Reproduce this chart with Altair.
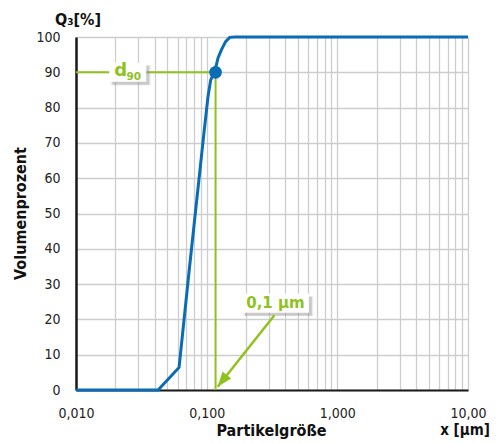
import altair as alt
import pandas as pd

# ---- data ----
curve_x = [0.010, 0.0425, 0.0615, 0.0733, 0.0948, 0.1023, 0.1073, 0.114, 0.1185, 0.122,
           0.1294, 0.1396, 0.150, 0.164, 10.0]
curve_y = [0, 0, 6.4, 33.5, 72, 83, 87.8, 90, 92, 94, 96.3, 98.7, 99.9, 100, 100]

d90_x = [0.117]
d90_y = [90]

guide_x = [0.010, 0.117, 0.117]
guide_y = [90, 90, 0]

d90_label_x = [0.0249]
d90_label_y = [90]

size_label_x = [0.336]
size_label_y = [24.6]
size_label_text = ["0,1 µm"]

arrow_x = [0.330, 0.1213]
arrow_y = [21.2, 0.9]

x_tick_values = [0.01, 0.1, 1, 10]
x_tick_labels = ["0,010", "0,100", "1,000", "10,00"]
y_tick_values = [0, 10, 20, 30, 40, 50, 60, 70, 80, 90, 100]

BLUE = "#0a6cb5"
GREEN = "#8fc21f"
GRID = "#cdcdcd"
LABEL_FONT = "DejaVu Sans Condensed"
TITLE_FONT = "DejaVu Sans Condensed"

x_grid_values = [m * 10 ** e for e in (-2, -1, 0) for m in range(1, 10)] + [10]
label_expr = " : ".join(
    f"abs(datum.value - {v}) < {v} * 1e-6 ? '{l}'" for v, l in zip(x_tick_values, x_tick_labels)
) + " : ''"

x_scale = alt.Scale(type="log", domain=[0.01, 10], nice=False)
y_scale = alt.Scale(domain=[0, 100], nice=False, zero=True)

x_axis = alt.Axis(
    values=x_grid_values, labelExpr=label_expr, labelOverlap=False, labelFlush=False,
    labelBound=False, title="Partikelgröße", titleX=195, titleY=45,
    titleBaseline="alphabetic", titleAnchor="middle", titleAlign="center",
)
y_axis = alt.Axis(
    values=y_tick_values, title="Volumenprozent", titleX=-56, titleY=176,
    titleAngle=-90, titleAlign="center", titleBaseline="middle", labelFlush=False,
)

X = alt.X("x:Q", scale=x_scale, axis=x_axis)
Y = alt.Y("y:Q", scale=y_scale, axis=y_axis)

curve_df = pd.DataFrame({"x": curve_x, "y": curve_y, "i": range(len(curve_x))})
guide_df = pd.DataFrame({"x": guide_x, "y": guide_y, "i": range(len(guide_x))})
point_df = pd.DataFrame({"x": d90_x, "y": d90_y})
d90_df = pd.DataFrame({"x": d90_label_x, "y": d90_label_y})
size_df = pd.DataFrame({"x": size_label_x, "y": size_label_y, "t": size_label_text})
arrow_df = pd.DataFrame({"x": arrow_x, "y": arrow_y, "i": range(len(arrow_x))})
head_df = pd.DataFrame({"x": arrow_x[-1:], "y": arrow_y[-1:]})
corner_q = pd.DataFrame({"x": [x_tick_values[0]], "y": [y_tick_values[-1]], "t": ["Q₃[%]"]})
corner_x = pd.DataFrame({"x": [x_tick_values[-1]], "y": [y_tick_values[0]], "t": ["x [µm]"]})

BOX_D90 = "M-1,-0.514H1V0.514H-1Z"
BOX_SIZE = "M-1,-0.284H1V0.284H-1Z"
HEAD = "M0,0L0.55,1.5L-0.55,1.5Z"

guide = alt.Chart(guide_df).mark_line(color=GREEN, strokeWidth=2).encode(x=X, y=Y, order="i:Q")

def box(df, path, size):
    shadow2 = alt.Chart(df).mark_point(
        shape=path, size=(size ** 0.5 + 3) ** 2, filled=True, color="#9a9a9a", opacity=0.18,
        xOffset=3, yOffset=3, strokeWidth=0,
    ).encode(x=X, y=Y)
    shadow = alt.Chart(df).mark_point(
        shape=path, size=size, filled=True, color="#8a8a8a", opacity=0.35,
        xOffset=3, yOffset=3, strokeWidth=0,
    ).encode(x=X, y=Y)
    face = alt.Chart(df).mark_point(
        shape=path, size=size, filled=True, color="white", opacity=1, strokeWidth=0,
    ).encode(x=X, y=Y)
    return shadow2 + shadow + face

d90_box = box(d90_df, BOX_D90, 37 ** 2)
size_box = box(size_df, BOX_SIZE, 67 ** 2)

d_text = alt.Chart(d90_df).mark_text(
    text="d", font="DejaVu Sans", fontWeight="bold", fontSize=18, color=GREEN,
    dx=-7, dy=-1, baseline="middle", align="center",
).encode(x=X, y=Y)
sub_text = alt.Chart(d90_df).mark_text(
    text="90", font="DejaVu Sans", fontWeight="bold", fontSize=10.5, color=GREEN,
    dx=6, dy=5, baseline="middle", align="center",
).encode(x=X, y=Y)
size_text = alt.Chart(size_df).mark_text(
    font="DejaVu Sans", fontWeight="bold", fontSize=15, color=GREEN,
    baseline="middle", align="center", dy=0,
).encode(x=X, y=Y, text="t:N")

arrow = alt.Chart(arrow_df).mark_line(color=GREEN, strokeWidth=2.5).encode(x=X, y=Y, order="i:Q")
head = alt.Chart(head_df).mark_point(
    shape=HEAD, size=400, filled=True, color=GREEN, opacity=1, angle=218, strokeWidth=0,
).encode(x=X, y=Y)

curve = alt.Chart(curve_df).mark_line(color=BLUE, strokeWidth=3).encode(x=X, y=Y, order="i:Q")
dot = alt.Chart(point_df).mark_point(
    shape="circle", size=160, filled=True, color=BLUE, opacity=1, strokeWidth=0
).encode(x=X, y=Y)

q_text = alt.Chart(corner_q).mark_text(
    font=TITLE_FONT, fontWeight="bold", fontSize=16, color="#111",
    dx=2, dy=-17, baseline="middle", align="center",
).encode(x=X, y=Y, text="t:N")
xu_text = alt.Chart(corner_x).mark_text(
    font=TITLE_FONT, fontWeight="bold", fontSize=15, color="#111",
    dx=-3, dy=45, baseline="alphabetic", align="center",
).encode(x=X, y=Y, text="t:N")

chart = alt.layer(
    guide, d90_box, size_box, d_text, sub_text, size_text, arrow, head, curve, dot, q_text, xu_text
).properties(
    width=392, height=353,
    autosize=alt.AutoSizeParams(type="none"),
    padding={"left": 68, "top": 29, "right": 22, "bottom": 50},
).configure_view(stroke=None).configure_axis(
    grid=True, gridColor=GRID, gridWidth=1.3, ticks=False,
    domainColor="#1a1a1a", labelFont=LABEL_FONT, labelFontSize=14, labelColor="#222",
    titleFont=TITLE_FONT, titleFontSize=16, titleFontWeight="bold", titleColor="#111",
).configure_axisX(
    domainWidth=2, labelPadding=16,
).configure_axisY(
    domainWidth=2.5, labelPadding=16,
)

chart.save("out.html", embed_options={"renderer": "svg", "actions": False})
